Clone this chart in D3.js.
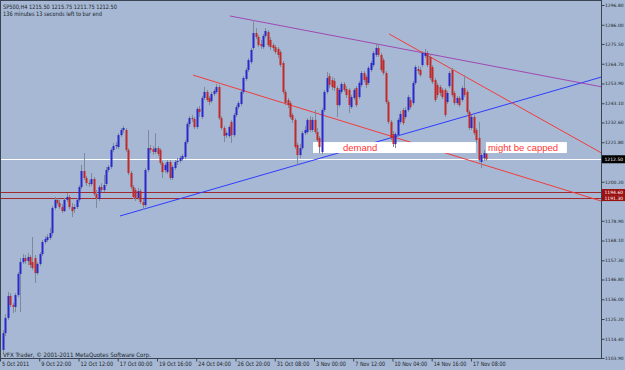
<!DOCTYPE html>
<html><head><meta charset="utf-8">
<script src="https://cdn.jsdelivr.net/npm/d3@7"></script>
<style>html,body{margin:0;padding:0;background:#a6b8d3;}svg{display:block;}</style>
</head><body>
<svg id="c" width="625" height="370"></svg>
<script>
// ---- DATA (SP500, H4) ----
const opens = [
1108.3,1117.5,1125.8,1137.8,1132.9,1131.8,1138.3,1149.8,1156.3,1158.5,
1156.9,1159.1,1156.3,1158.5,1150.3,1155.3,1160.7,1167.3,1168.4,1169.5,
1172.2,1185.9,1190.3,1188.6,1186.4,1184.2,1190.3,1191.9,1186.4,1185.3,
1186.4,1190.3,1197.3,1206.1,1202.3,1199.5,1199.0,1201.7,1193.5,1190.8,
1197.3,1195.7,1199.0,1206.6,1208.3,1217.6,1219.7,1219.2,1225.7,1228.5,
1228.5,1217.6,1205.0,1197.3,1195.7,1191.3,1195.1,1189.1,1187.5,1206.6,
1218.6,1218.1,1216.5,1218.6,1217.6,1210.5,1206.6,1205.5,1211.0,1202.3,
1207.7,1211.0,1211.6,1212.6,1213.7,1221.9,1231.8,1235.0,1234.5,1230.1,
1240.0,1235.6,1246.0,1249.3,1246.0,1244.3,1248.2,1249.3,1252.0,1235.0,
1229.6,1225.7,1225.2,1232.9,1225.7,1236.7,1241.0,1242.7,1249.3,1256.4,
1261.3,1265.6,1273.3,1281.5,1279.3,1275.5,1273.8,1279.9,1282.0,1277.7,
1274.9,1273.8,1272.8,1271.1,1265.1,1249.3,1244.9,1243.2,1236.7,1234.0,
1220.3,1214.8,1218.6,1226.8,1227.4,1234.0,1228.5,1234.0,1227.4,1224.1,
1216.5,1239.4,1249.3,1258.0,1255.8,1255.3,1251.4,1242.1,1249.3,1253.6,
1250.9,1250.4,1241.0,1246.0,1251.4,1246.5,1253.1,1259.6,1257.5,1254.2,
1261.3,1264.0,1269.5,1273.3,1269.5,1266.7,1259.6,1243.8,1232.9,1226.3,
1220.8,1225.7,1232.9,1239.4,1235.6,1239.4,1244.9,1243.2,1254.2,1261.8,
1261.3,1264.0,1268.9,1270.6,1268.4,1262.9,1255.8,1253.1,1252.0,1250.4,
1250.4,1243.8,1252.5,1261.3,1248.7,1243.2,1246.0,1244.9,1251.4,1249.3,
1238.3,1229.6,1235.6,1228.5,1224.1,1211.0,1213.2,1215.50];
const highs = [
1119.2,1128.0,1140.0,1139.4,1134.0,1139.4,1150.9,1158.5,1160.7,1160.2,
1161.3,1160.2,1170.0,1160.2,1156.3,1161.8,1168.4,1170.5,1171.6,1174.9,
1187.0,1191.9,1191.3,1190.3,1188.0,1191.3,1194.1,1193.0,1188.6,1188.0,
1191.3,1198.4,1209.4,1215.9,1203.4,1201.2,1205.0,1202.8,1195.7,1198.4,
1199.5,1203.9,1208.3,1209.4,1218.6,1221.4,1221.9,1226.8,1229.6,1230.7,
1229.6,1218.6,1206.1,1198.4,1196.8,1196.8,1196.2,1190.8,1207.7,1228.5,
1220.3,1219.7,1226.8,1219.7,1218.6,1211.6,1210.5,1212.1,1212.1,1209.4,
1212.1,1213.2,1214.3,1215.4,1223.0,1232.9,1236.1,1236.7,1235.6,1241.0,
1241.6,1247.1,1252.0,1250.4,1247.1,1249.3,1250.9,1253.6,1253.1,1236.1,
1230.7,1227.9,1231.2,1234.0,1237.8,1242.1,1244.3,1250.4,1258.0,1262.4,
1267.8,1273.3,1288.6,1284.2,1280.4,1277.7,1280.9,1284.2,1283.1,1279.3,
1276.0,1274.9,1273.8,1272.2,1266.2,1250.4,1246.0,1244.3,1237.8,1235.0,
1221.4,1220.8,1227.9,1230.7,1235.0,1236.1,1235.6,1239.4,1229.6,1225.2,
1240.5,1250.4,1260.2,1259.6,1257.5,1256.9,1252.5,1251.4,1254.7,1254.7,
1252.5,1251.4,1247.6,1251.4,1252.5,1255.3,1260.7,1260.7,1258.5,1263.5,
1266.2,1271.7,1276.0,1274.9,1270.6,1267.8,1260.7,1244.9,1234.0,1227.9,
1227.4,1235.0,1238.9,1240.5,1241.0,1247.6,1246.5,1255.3,1264.0,1263.5,
1262.9,1271.7,1272.8,1271.7,1269.5,1264.0,1256.9,1254.2,1253.1,1251.4,
1251.4,1249.8,1260.7,1262.4,1249.8,1247.1,1247.1,1252.5,1258.5,1250.4,
1239.4,1236.7,1236.7,1229.6,1232.9,1215.9,1217.6,1215.75];
const lows = [
1106.6,1115.9,1124.7,1131.8,1128.5,1129.0,1137.2,1129.0,1155.3,1155.3,
1154.7,1153.1,1152.0,1144.9,1149.3,1154.2,1159.6,1166.2,1167.3,1168.4,
1170.5,1184.8,1187.5,1185.3,1183.1,1183.7,1189.1,1185.3,1180.9,1183.1,
1185.3,1189.1,1196.2,1201.2,1197.9,1197.3,1197.9,1192.4,1185.9,1189.7,
1194.6,1194.6,1197.9,1205.5,1207.2,1216.5,1218.1,1218.1,1224.7,1226.8,
1216.5,1203.9,1196.2,1190.8,1189.7,1190.3,1188.0,1184.8,1186.4,1205.5,
1215.9,1214.8,1215.4,1214.3,1209.4,1202.3,1205.0,1204.4,1201.2,1201.2,
1206.6,1209.4,1210.5,1211.6,1212.6,1220.8,1230.1,1232.9,1229.0,1229.0,
1235.6,1234.5,1244.9,1243.8,1242.1,1243.2,1247.1,1248.2,1234.0,1228.5,
1221.9,1224.1,1224.1,1221.4,1224.7,1235.6,1240.0,1241.6,1248.2,1255.3,
1260.2,1264.5,1272.2,1278.2,1273.8,1272.8,1272.8,1278.8,1273.8,1272.2,
1271.7,1270.0,1267.8,1262.9,1248.2,1242.1,1240.5,1234.5,1232.3,1218.1,
1209.4,1213.2,1217.6,1225.7,1226.3,1227.4,1227.4,1226.3,1221.9,1215.9,
1215.4,1238.3,1248.2,1251.4,1250.4,1249.8,1235.6,1241.0,1248.2,1249.3,
1246.0,1237.8,1240.0,1244.9,1241.0,1245.4,1252.0,1254.7,1251.4,1253.1,
1260.2,1262.9,1268.4,1268.4,1260.2,1258.5,1242.7,1231.8,1223.0,1219.2,
1218.6,1224.7,1231.8,1231.2,1234.5,1238.3,1240.0,1242.1,1253.1,1259.1,
1257.5,1262.9,1267.8,1262.9,1255.8,1253.6,1243.8,1246.0,1247.1,1245.4,
1235.6,1242.7,1251.4,1246.5,1242.1,1242.1,1241.0,1243.8,1246.5,1237.2,
1228.5,1228.5,1225.7,1221.4,1211.0,1207.7,1211.6,1211.75];
const closes = [
1117.5,1125.8,1137.8,1132.9,1131.8,1138.3,1149.8,1156.3,1158.5,1156.9,
1159.1,1154.7,1153.1,1150.3,1155.3,1160.7,1167.3,1168.9,1170.0,1172.2,
1185.9,1190.3,1188.6,1186.4,1184.2,1190.3,1191.9,1186.4,1184.2,1186.4,
1190.3,1197.3,1206.1,1202.3,1199.5,1199.0,1201.7,1193.5,1191.3,1197.3,
1195.7,1198.4,1206.6,1208.3,1217.6,1219.7,1220.3,1225.7,1228.5,1229.6,
1217.6,1205.0,1197.3,1191.9,1191.3,1195.1,1189.1,1187.5,1206.6,1218.6,
1217.6,1216.5,1218.6,1215.4,1210.5,1205.5,1209.4,1211.0,1202.3,1208.3,
1211.0,1211.6,1213.2,1214.3,1221.9,1231.8,1235.0,1234.5,1230.1,1240.0,
1238.3,1246.0,1249.3,1244.9,1243.8,1248.2,1249.8,1252.0,1235.0,1229.6,
1225.2,1226.8,1230.1,1225.7,1236.7,1241.0,1243.2,1249.3,1256.9,1261.3,
1266.7,1272.2,1281.5,1279.3,1274.9,1274.4,1279.9,1282.6,1274.9,1273.8,
1273.3,1271.1,1269.5,1264.0,1249.3,1243.2,1242.1,1235.6,1234.0,1219.2,
1214.8,1218.6,1226.8,1228.5,1234.0,1228.5,1234.0,1227.4,1223.0,1219.2,
1239.4,1249.3,1256.9,1253.1,1252.0,1251.4,1242.1,1250.4,1253.6,1250.4,
1247.6,1242.1,1246.5,1250.4,1242.1,1254.2,1259.6,1255.8,1253.1,1262.4,
1265.1,1270.6,1273.3,1269.5,1261.3,1259.6,1243.8,1232.9,1224.1,1220.8,
1226.3,1234.0,1237.2,1232.3,1239.4,1246.5,1241.0,1254.2,1262.9,1260.7,
1258.5,1270.6,1270.6,1264.0,1256.9,1254.7,1244.9,1247.6,1248.7,1246.5,
1236.7,1248.7,1259.6,1247.6,1243.2,1246.0,1242.1,1251.4,1247.6,1238.3,
1229.6,1235.6,1226.8,1223.0,1212.1,1214.8,1215.9,1212.50];

const xTickBars = [0,16,32,48,64,80,96,112,128,144,160,176,192];
const xTickLabels = ["5 Oct 2011","9 Oct 22:00","12 Oct 12:00","17 Oct 00:00","19 Oct 16:00","24 Oct 04:00","26 Oct 20:00","31 Oct 08:00","3 Nov 00:00","7 Nov 12:00","10 Nov 04:00","14 Nov 16:00","17 Nov 08:00"];
const yTickValues = [1296.80,1286.00,1275.50,1264.70,1253.90,1243.10,1232.60,1221.80,1200.20,1178.90,1168.10,1157.30,1146.80,1136.00,1125.20,1114.40,1103.90];
const levels = [1194.60, 1191.30];
const currentPrice = 1212.50;
// trendline anchors: [bar index, price]
const supportLine = [[47.7, 1181.5],[227.1, 1250.9]];
const resistanceLine = [[92.5, 1290.8],[227.1, 1256.4]];
const channelLower = [[77.5, 1258.5],[243.8, 1189.7]];
const channelUpper = [[157.4, 1281.0],[243.8, 1216.1]];
// zones: bar range + price range + label
const zones = [
  {i1:126.4, i2:192.8, top:1221.9, bottom:1215.9, label:"demand", li:138.6},
  {i1:196.9, i2:229.9, top:1221.9, bottom:1215.9, label:"might be capped", li:197.7}
];
const header1 = "SP500,H4  1215.50 1215.75 1211.75 1212.50";
const header2 = "136 minutes 13 seconds left to bar end";
const footer = "VFX Trader, \u00A9 2001-2011 MetaQuotes Software Corp.";

// ---- DRAW ----
const svg = d3.select("#c");
const PR = 601, PB = 358;
svg.append("rect").attr("width",625).attr("height",370).attr("fill","#a6b8d3");
svg.append("defs").append("clipPath").attr("id","plot")
  .append("rect").attr("x",0).attr("y",0).attr("width",PR).attr("height",PB);

const x = d3.scaleLinear().domain([0,197]).range([3,486.2]);
const y = d3.scaleLinear().domain([1103.9,1296.8]).range([358,5]);

const plot = svg.append("g").attr("clip-path","url(#plot)");

plot.selectAll("line.lvl").data(levels).join("line").attr("class","lvl")
  .attr("x1",0).attr("x2",PR)
  .attr("y1",d=>Math.round(y(d))+0.5).attr("y2",d=>Math.round(y(d))+0.5)
  .attr("stroke","#a02a2c").attr("stroke-width",1);
plot.append("line").attr("x1",0).attr("x2",PR)
  .attr("y1",Math.round(y(currentPrice))+0.5).attr("y2",Math.round(y(currentPrice))+0.5)
  .attr("stroke","#ffffff").attr("stroke-width",1);

function ray(a, color){
  const x1=x(a[0][0]), y1=y(a[0][1]), x2=x(a[1][0]), y2=y(a[1][1]);
  const m=(y2-y1)/(x2-x1);
  plot.append("line").attr("x1",x1).attr("y1",y1).attr("x2",PR).attr("y2",y1+m*(PR-x1))
    .attr("stroke",color).attr("stroke-width",1);
}
ray(supportLine, "#2f3cff");
ray(resistanceLine, "#a048b4");
ray(channelLower, "#f23c3c");
ray(channelUpper, "#f23c3c");

plot.selectAll("rect.zone").data(zones).join("rect").attr("class","zone")
  .attr("x",d=>x(d.i1)).attr("width",d=>x(d.i2)-x(d.i1))
  .attr("y",d=>y(d.top)).attr("height",d=>y(d.bottom)-y(d.top))
  .attr("fill","#ffffff");

const bars = closes.map((c,i)=>({i,o:opens[i],h:highs[i],l:lows[i],c}));
const cg = plot.append("g");
cg.selectAll("rect.w").data(bars).join("rect").attr("class","w")
  .attr("x",d=>Math.round(x(d.i))).attr("width",1)
  .attr("y",d=>y(d.h)).attr("height",d=>Math.max(1,y(d.l)-y(d.h)))
  .attr("fill","#7e8a9c");
cg.selectAll("rect.b").data(bars).join("rect").attr("class","b")
  .attr("x",d=>Math.round(x(d.i))-0.5).attr("width",2)
  .attr("y",d=>y(Math.max(d.o,d.c))).attr("height",d=>Math.max(1,Math.abs(y(d.o)-y(d.c))))
  .attr("fill",d=>d.c>=d.o?"#2828cc":"#c02a2a");

plot.selectAll("text.zl").data(zones).join("text").attr("class","zl")
  .attr("x",d=>x(d.li)).attr("y",151)
  .attr("font-family","Liberation Sans, Arial, sans-serif").attr("font-size",9.5)
  .attr("fill","#ff3636").text(d=>d.label);

const fr = svg.append("g").attr("stroke","#3a4352").attr("stroke-width",1);
fr.append("line").attr("x1",0.5).attr("x2",0.5).attr("y1",0).attr("y2",PB+0.5);
fr.append("line").attr("x1",0).attr("x2",PR+0.5).attr("y1",0.5).attr("y2",0.5);
fr.append("line").attr("x1",PR+0.5).attr("x2",PR+0.5).attr("y1",0).attr("y2",PB+1);
fr.append("line").attr("x1",0).attr("x2",PR+0.5).attr("y1",PB+0.5).attr("y2",PB+0.5);

const FONT = "DejaVu Sans, sans-serif";
const ya = svg.append("g").attr("transform",`translate(${PR+0.5},0)`)
  .call(d3.axisRight(y).tickValues(yTickValues).tickSize(3).tickPadding(0.5).tickFormat(d3.format(".2f")));
ya.select(".domain").remove();
ya.selectAll("line").attr("stroke","#3a4352");
ya.selectAll("text").attr("font-family",FONT).attr("font-size",4.5).attr("fill","#1b1f2a");

const xa = svg.append("g").attr("transform",`translate(0,${PB+0.5})`)
  .call(d3.axisBottom(x).tickValues(xTickBars).tickSize(3).tickFormat((d,i)=>xTickLabels[i]));
xa.select(".domain").remove();
xa.selectAll(".tick line").attr("stroke","#3a4352").attr("transform","translate(-3,0)");
xa.selectAll("text").attr("font-family",FONT).attr("font-size",6).attr("fill","#1b1f2a")
  .attr("text-anchor","start").attr("dx",-1.5).attr("y",3).attr("dy","0.71em")
  .attr("textLength",(d,i)=>xTickLabels[i].length*2.72).attr("lengthAdjust","spacingAndGlyphs");

function priceBox(v, fill, h){
  const yy = y(v);
  svg.append("rect").attr("x",PR+1).attr("y",yy-h/2).attr("width",625-PR-1).attr("height",h).attr("fill",fill);
  svg.append("text").attr("x",PR+3.5).attr("y",yy+1.7).attr("font-family",FONT).attr("font-size",4.5)
    .attr("fill","#ffffff").text(d3.format(".2f")(v));
}
levels.forEach(v=>priceBox(v,"#9a1010",6));
priceBox(currentPrice,"#000000",8);

svg.append("text").attr("x",3).attr("y",9).attr("font-family",FONT).attr("font-size",6)
  .attr("fill","#1b1f2a").attr("textLength",114).attr("lengthAdjust","spacingAndGlyphs").text(header1);
svg.append("text").attr("x",3).attr("y",15.5).attr("font-family",FONT).attr("font-size",6)
  .attr("fill","#1b1f2a").attr("textLength",99).attr("lengthAdjust","spacingAndGlyphs").text(header2);
svg.append("text").attr("x",3).attr("y",356.5).attr("font-family",FONT).attr("font-size",6)
  .attr("fill","#1b1f2a").attr("textLength",148).attr("lengthAdjust","spacingAndGlyphs").text(footer);
</script>
</body></html>
